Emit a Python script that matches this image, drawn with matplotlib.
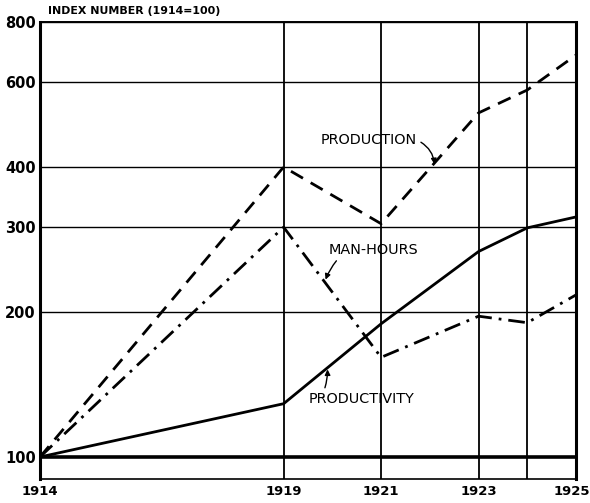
import matplotlib
matplotlib.use("Agg")
import matplotlib.pyplot as plt
from matplotlib.ticker import FixedLocator, FixedFormatter, NullLocator

# index numbers, 1914 = 100
years = [1914, 1919, 1921, 1923, 1924, 1925]
production = [100, 400, 305, 518, 578, 683]
man_hours = [100, 300, 161, 196, 190, 217]
productivity = [100, 129, 189, 267, 299, 315]

y_ticks = [100, 200, 300, 400, 600, 800]
x_ticks = [1914, 1919, 1921, 1923, 1924, 1925]
x_labels = ["1914", "1919", "1921", "1923", "", ""]

plt.rcParams["font.family"] = ["DejaVu Sans"]

fig = plt.figure(figsize=(5.9, 5.03), dpi=100)
ax = fig.add_axes([40 / 590, 1 - 479 / 503, 536 / 590, 457 / 503])

ax.set_yscale("log")
ax.set_xlim(1914, 1925)
ax.set_ylim(90, 800)

# grid
for y in y_ticks[1:]:
    ax.axhline(y, color="black", lw=1.0, zorder=1)
ax.axhline(100, color="black", lw=2.6, zorder=1)
for x in x_ticks[1:]:
    ax.axvline(x, color="black", lw=1.3, zorder=1)

ax.plot(years, production, color="black", lw=2.0, linestyle=(0, (5, 3.2)), zorder=3)
ax.plot(years, man_hours, color="black", lw=2.0, linestyle=(0, (6, 2.5, 1, 2.5)), zorder=3)
ax.plot(years, productivity, color="black", lw=2.0, linestyle="-", zorder=3)

ax.yaxis.set_major_locator(FixedLocator(y_ticks))
ax.yaxis.set_major_formatter(FixedFormatter([str(v) for v in y_ticks]))
ax.yaxis.set_minor_locator(NullLocator())
ax.xaxis.set_major_locator(FixedLocator(x_ticks))
ax.xaxis.set_major_formatter(FixedFormatter(x_labels))
ax.tick_params(axis="y", length=0, labelsize=10.5, pad=3)
ax.tick_params(axis="x", length=0, labelsize=9.5, pad=4)
for lab in ax.get_xticklabels() + ax.get_yticklabels():
    lab.set_fontweight("bold")

# last year label sits against the right edge
ax.text(1925.28, -5.6 / 457, "1925", transform=ax.get_xaxis_transform(),
        ha="right", va="top", fontsize=9.5, fontweight="bold")

ax.spines["left"].set_linewidth(2.2)
ax.spines["right"].set_linewidth(2.2)
ax.spines["top"].set_linewidth(1.4)
ax.spines["bottom"].set_linewidth(1.2)

fig.text(48 / 590, 1 - 11 / 503, "INDEX NUMBER (1914=100)", fontsize=7.9,
         fontweight="bold", va="center", ha="left")

# labels with leader arrows
arrow = dict(arrowstyle="-|>", color="black", lw=1.0, mutation_scale=8)
ax.annotate("PRODUCTION", xy=(1922.1, 400), xytext=(1920.75, 455),
            ha="center", va="center", fontsize=10.4,
            arrowprops=dict(arrow, relpos=(1.0, 0.5), shrinkA=1, shrinkB=2,
                            connectionstyle="arc3,rad=-0.3"))
ax.annotate("MAN-HOURS", xy=(1919.85, 232), xytext=(1920.85, 269),
            ha="center", va="center", fontsize=10.4,
            arrowprops=dict(arrow, relpos=(0.12, 0.0), shrinkA=1, shrinkB=1,
                            connectionstyle="arc3,rad=0.1"))
ax.annotate("PRODUCTIVITY", xy=(1919.9, 153), xytext=(1920.6, 132),
            ha="center", va="center", fontsize=10.4,
            arrowprops=dict(arrow, relpos=(0.14, 1.0), shrinkA=1, shrinkB=1,
                            connectionstyle="arc3,rad=0.1"))

fig.savefig("out.png", dpi=100)
